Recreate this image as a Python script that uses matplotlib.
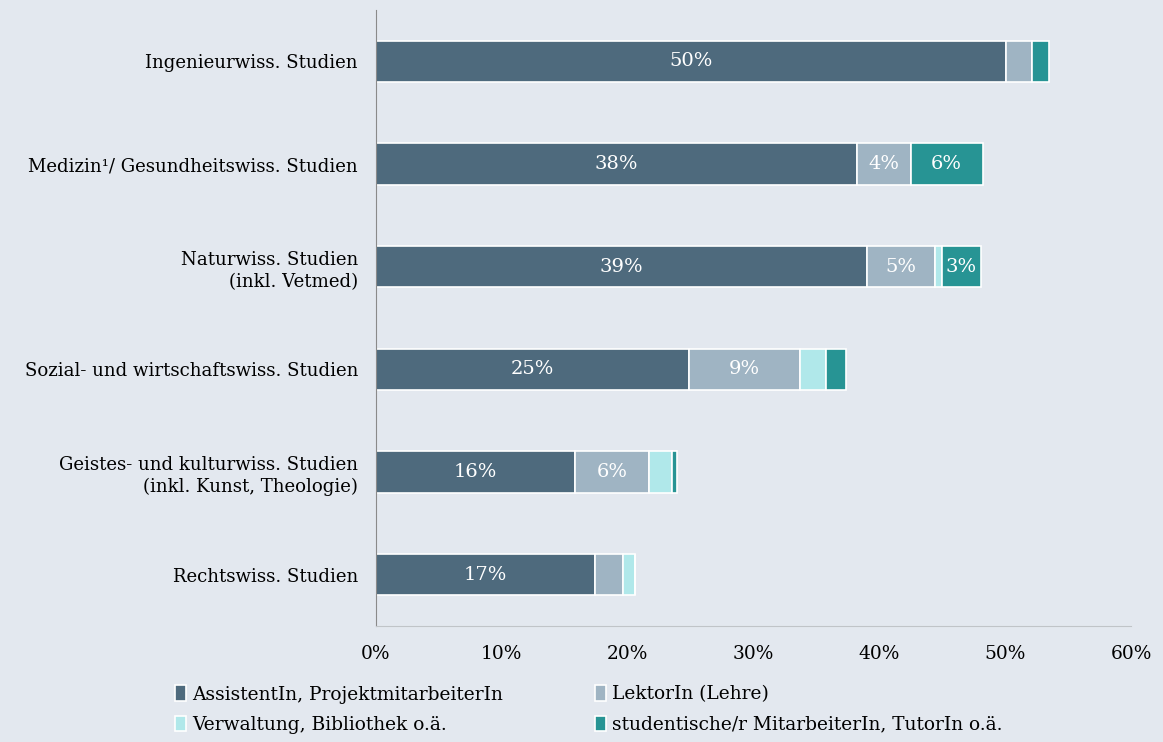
import matplotlib.pyplot as plt
import numpy as np

categories = [
    "Ingenieurwiss. Studien",
    "Medizin\u00b9/ Gesundheitswiss. Studien",
    "Naturwiss. Studien\n(inkl. Vetmed)",
    "Sozial- und wirtschaftswiss. Studien",
    "Geistes- und kulturwiss. Studien\n(inkl. Kunst, Theologie)",
    "Rechtswiss. Studien",
]
series_names = [
    "AssistentIn, ProjektmitarbeiterIn",
    "LektorIn (Lehre)",
    "Verwaltung, Bibliothek o.ä.",
    "studentische/r MitarbeiterIn, TutorIn o.ä.",
]
assistent = [50.1, 38.2, 39.0, 24.9, 15.8, 17.4]
lektor = [2.0, 4.3, 5.4, 8.8, 5.9, 2.2]
verwaltung = [0.0, 0.0, 0.55, 2.1, 1.8, 1.0]
studentisch = [1.4, 5.7, 3.1, 1.55, 0.45, 0.0]
colors = ["#4e6a7d", "#9fb4c3", "#b0e8ea", "#279494"]
bg = "#e3e8ef"

plt.rcParams['font.family'] = ['DejaVu Serif']

fig = plt.figure(figsize=(11.63, 7.42), dpi=100, facecolor=bg)
ax = fig.add_axes([0.3233, 0.1563, 0.6492, 0.8302])
ax.set_facecolor(bg)

y = np.arange(len(categories))
left = np.zeros(len(categories))
handles = []
for name, vals, col in zip(series_names, [assistent, lektor, verwaltung, studentisch], colors):
    vals = np.array(vals)
    bars = ax.barh(y, vals, left=left, height=0.4, color=col,
                   edgecolor="white", linewidth=1.2, label=name)
    handles.append(bars)
    for b, v in zip(bars, vals):
        if v >= 2.5:
            ax.text(b.get_x() + b.get_width() / 2, b.get_y() + b.get_height() / 2,
                    f"{v:.0f}%", ha="center", va="center", color="white", fontsize=14)
    left += vals

ax.set_xlim(0, 60)
ax.set_ylim(len(categories) - 0.5, -0.5)
ax.set_yticks(y)
ax.set_yticklabels(categories, fontsize=13.1, linespacing=1.3)
ax.set_xticks(np.arange(0, 61, 10))
ax.set_xticklabels([f"{t}%" for t in range(0, 61, 10)], fontsize=13.4)
ax.tick_params(axis='y', length=0, pad=21 - 8)
ax.tick_params(axis='x', length=0, pad=14)
for s in ["top", "right"]:
    ax.spines[s].set_visible(False)
ax.spines["left"].set_color("#8a8a8a")
ax.spines["bottom"].set_color("#c0c4c8")

# row-major legend: reorder for matplotlib's column filling
order = [0, 2, 1, 3]
fig.legend([handles[i] for i in order], [series_names[i] for i in order],
           loc="lower left", bbox_to_anchor=(0.141, -0.004), ncol=2, frameon=False,
           fontsize=13.4, handlelength=0.6, handleheight=0.9, handletextpad=0.3,
           columnspacing=4.95, labelspacing=0.65, borderpad=0.1)

fig.savefig("out.png", dpi=100, facecolor=bg)
